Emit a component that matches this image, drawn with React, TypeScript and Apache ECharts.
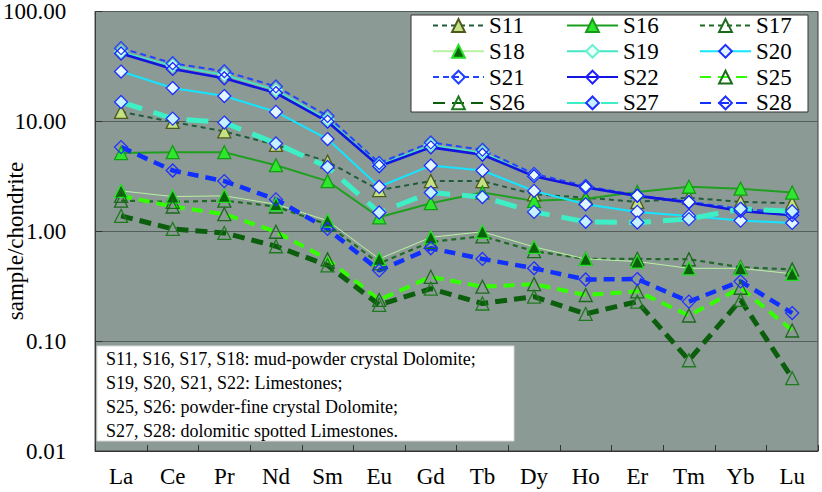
import React, { useEffect, useRef } from 'react';
import * as echarts from 'echarts';

// REE elements along the x axis
const elements = ['La', 'Ce', 'Pr', 'Nd', 'Sm', 'Eu', 'Gd', 'Tb', 'Dy', 'Ho', 'Er', 'Tm', 'Yb', 'Lu'];

// Chondrite-normalised REE values per sample
const S11 = [12.2, 9.9, 8.1, 6.1, 4.3, 2.37, 2.86, 2.86, 2.17, 2.02, 1.85, 2.02, 1.85, 1.8];
const S16 = [5.15, 5.24, 5.24, 3.99, 2.86, 1.34, 1.8, 2.25, 1.89, 1.98, 2.28, 2.54, 2.44, 2.25];
const S17 = [1.9, 1.85, 1.9, 1.68, 1.15, 0.51, 0.8, 0.9, 0.66, 0.56, 0.56, 0.556, 0.47, 0.45];
const S18 = [2.33, 2.07, 2.1, 1.76, 1.25, 0.56, 0.88, 0.99, 0.72, 0.56, 0.53, 0.46, 0.46, 0.41];
const S19 = [43, 32, 26.5, 19.3, 10.4, 4.0, 6.1, 5.2, 3.2, 2.5, 2.1, 1.85, 1.56, 1.44];
const S20 = [28.4, 20.1, 17.0, 12.2, 6.9, 2.54, 3.96, 3.57, 2.33, 1.76, 1.5, 1.38, 1.25, 1.19];
const S21 = [46.4, 33.8, 28.6, 20.8, 11.2, 4.18, 6.43, 5.51, 3.33, 2.58, 2.12, 1.85, 1.6, 1.48];
const S22 = [41.5, 30.0, 24.7, 18.1, 9.94, 3.9, 5.8, 4.97, 3.17, 2.5, 2.1, 1.83, 1.53, 1.4];
const S25 = [2.1, 1.68, 1.43, 0.99, 0.556, 0.237, 0.385, 0.313, 0.33, 0.263, 0.284, 0.171, 0.306, 0.125];
const S26 = [1.38, 1.05, 0.965, 0.73, 0.49, 0.214, 0.3, 0.22, 0.254, 0.177, 0.229, 0.067, 0.237, 0.046];
const S27 = [15.0, 10.6, 9.75, 6.3, 3.85, 1.48, 2.25, 2.05, 1.5, 1.22, 1.2, 1.29, 1.6, 1.52];
const S28 = [5.83, 3.57, 2.86, 1.95, 1.05, 0.44, 0.7, 0.56, 0.46, 0.364, 0.367, 0.229, 0.35, 0.18];

// Y axis decade ticks
const yTicks = [0.01, 0.1, 1, 10, 100];

const notes = [
  'S11, S16, S17, S18: mud-powder crystal Dolomite;',
  'S19, S20, S21, S22: Limestones;',
  'S25, S26: powder-fine crystal Dolomite;',
  'S27, S28: dolomitic spotted Limestones.',
];

const serif = 'Liberation Serif';
const NONE = 'rgba(0,0,0,0)';

function makeSeries(
  name: string,
  data: number[],
  color: string,
  width: number,
  dash: any,
  symbol: string,
  fill: string,
  border: string,
  size: number
) {
  return {
    name,
    type: 'line',
    data,
    symbol,
    symbolSize: size,
    lineStyle: { color, width, type: dash },
    itemStyle: { color: fill, borderColor: border, borderWidth: 1.3 },
    emphasis: { disabled: true },
  };
}

export default function App() {
  const ref = useRef<HTMLDivElement>(null);

  useEffect(() => {
    const chart = echarts.init(ref.current!, null, { renderer: 'svg' });

    const series = [
      makeSeries('S11', S11, '#1e5c3c', 2, [5, 4], 'triangle', '#c4e283', '#4d5a1c', 13),
      makeSeries('S16', S16, '#1f9f1f', 2, 'solid', 'triangle', '#2ee62e', '#169a16', 13),
      makeSeries('S17', S17, '#1f6a26', 2.2, [5, 4], 'triangle', NONE, '#1a6a1a', 13),
      makeSeries('S18', S18, '#b9f2a2', 1, 'solid', 'triangle', '#0a620a', '#22e022', 13),
      makeSeries('S19', S19, '#45e6c6', 1.6, 'solid', 'diamond', '#eafff8', '#66f0d2', 13),
      makeSeries('S20', S20, '#14e4ff', 2, 'solid', 'diamond', '#e2f6ff', '#1e2eff', 13),
      makeSeries('S21', S21, '#2244ff', 2, [6, 4], 'diamond', NONE, '#2240ff', 13),
      makeSeries('S22', S22, '#1414e0', 2.6, 'solid', 'diamond', NONE, '#2020ff', 13),
      makeSeries('S25', S25, '#33ff00', 4, [11, 7], 'triangle', NONE, '#1a6a1a', 13),
      makeSeries('S26', S26, '#0b5e0b', 5, [12, 7], 'triangle', NONE, '#1f7a1f', 13),
      makeSeries('S27', S27, '#3eefc6', 5, [22, 12], 'diamond', '#c6f2ff', '#2030ff', 13),
      makeSeries('S28', S28, '#1030ff', 4.5, [11, 7], 'diamond', NONE, '#2030ff', 13),
    ];

    const legendCol = (data: string[], left: number) => ({
      orient: 'vertical',
      left,
      top: 14,
      padding: 0,
      itemGap: 2.8,
      itemWidth: 51,
      itemHeight: 16,
      selectedMode: false,
      data,
      textStyle: { fontSize: 23, fontFamily: serif, color: '#000', lineHeight: 22 },
      z: 6,
    });

    chart.setOption({
      animation: false,
      grid: {
        left: 89,
        right: 4,
        top: 8,
        bottom: 41,
        show: true,
        backgroundColor: '#8c9a96',
        borderColor: '#3a3a3a',
        borderWidth: 1,
      },
      legend: [
        legendCol(['S11', 'S18', 'S21', 'S26'], 432),
        legendCol(['S16', 'S19', 'S22', 'S27'], 566),
        legendCol(['S17', 'S20', 'S25', 'S28'], 699),
      ],
      xAxis: {
        type: 'category',
        data: elements,
        boundaryGap: true,
        axisLine: { show: true, lineStyle: { color: '#333', width: 1 } },
        axisTick: { show: true, inside: true, length: 6, interval: 0, lineStyle: { color: '#333' } },
        axisLabel: { fontSize: 23, fontFamily: serif, color: '#000', margin: 14, interval: 0 },
        splitLine: { show: false },
      },
      yAxis: {
        type: 'log',
        logBase: 10,
        min: yTicks[0],
        max: yTicks[yTicks.length - 1],
        axisLine: { show: true, lineStyle: { color: '#333', width: 1 } },
        axisTick: { show: true, inside: true, length: 7, lineStyle: { color: '#333' } },
        axisLabel: {
          fontSize: 23,
          fontFamily: serif,
          color: '#000',
          margin: 29,
          formatter: (v: number) => Number(v).toFixed(2),
        },
        splitLine: { show: true, lineStyle: { color: '#535d5a', width: 1.2 } },
      },
      graphic: [
        {
          type: 'rect',
          z: 3,
          shape: { x: 411, y: 15, width: 397, height: 97 },
          style: { fill: '#ffffff', stroke: '#333333', lineWidth: 1 },
        },
        {
          type: 'rect',
          z: 3,
          shape: { x: 97, y: 346, width: 417, height: 95 },
          style: { fill: '#ffffff', stroke: '#d8d8d8', lineWidth: 1 },
        },
        ...notes.map((t, i) => ({
          type: 'text',
          z: 4,
          x: 106,
          y: 359 + i * 24,
          style: {
            text: t,
            fontSize: 18,
            fontFamily: serif,
            fill: '#000',
            textVerticalAlign: 'middle',
            textAlign: 'left',
          },
        })),
        {
          type: 'text',
          z: 4,
          x: 15,
          y: 241,
          rotation: Math.PI / 2,
          style: {
            text: 'sample/chondrite',
            fontSize: 23,
            fontFamily: serif,
            fill: '#000',
            textAlign: 'center',
            textVerticalAlign: 'middle',
          },
        },
      ],
      series,
    });

    return () => chart.dispose();
  }, []);

  return (
    <div
      ref={ref}
      style={{ position: 'fixed', left: 0, top: 0, width: 822, height: 492, background: '#fff' }}
    />
  );
}
